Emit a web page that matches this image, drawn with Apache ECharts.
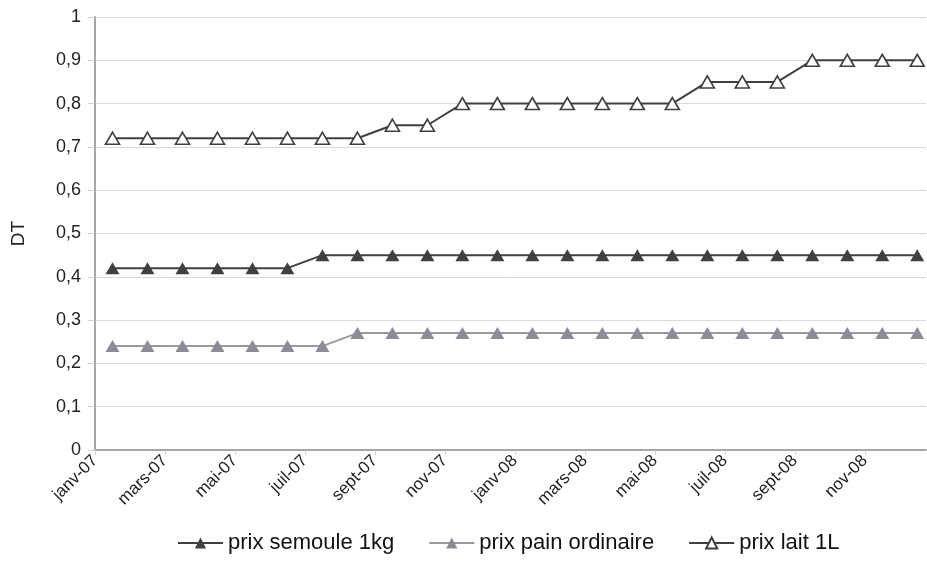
<!DOCTYPE html>
<html>
<head>
<meta charset="utf-8">
<script src="https://cdn.jsdelivr.net/npm/echarts@6/dist/echarts.min.js"></script>
<style>
html,body{margin:0;padding:0;background:#fff;}
#chart{width:927px;height:561px;}
</style>
</head>
<body>
<div id="chart"></div>
<script>
var months = ['janv-07','févr-07','mars-07','avr-07','mai-07','juin-07','juil-07','août-07','sept-07','oct-07','nov-07','déc-07',
              'janv-08','févr-08','mars-08','avr-08','mai-08','juin-08','juil-08','août-08','sept-08','oct-08','nov-08','déc-08'];
var semoule = [0.42,0.42,0.42,0.42,0.42,0.42,0.45,0.45,0.45,0.45,0.45,0.45,0.45,0.45,0.45,0.45,0.45,0.45,0.45,0.45,0.45,0.45,0.45,0.45];
var pain    = [0.24,0.24,0.24,0.24,0.24,0.24,0.24,0.27,0.27,0.27,0.27,0.27,0.27,0.27,0.27,0.27,0.27,0.27,0.27,0.27,0.27,0.27,0.27,0.27];
var lait    = [0.72,0.72,0.72,0.72,0.72,0.72,0.72,0.72,0.75,0.75,0.80,0.80,0.80,0.80,0.80,0.80,0.80,0.85,0.85,0.85,0.90,0.90,0.90,0.90];
var seriesNames = ['prix semoule 1kg','prix pain ordinaire','prix lait 1L'];

function pts(arr){ return arr.map(function(v,i){ return [i+0.5, v]; }); }

var font = 'Liberation Sans, Arial, sans-serif';
var chart = echarts.init(document.getElementById('chart'), null, {renderer:'canvas'});
chart.setOption({
  animation:false,
  backgroundColor:'#fff',
  grid:{left:95, right:1, top:17, bottom:111, containLabel:false},
  legend:{
    bottom:2, left:172,
    itemWidth:45, itemHeight:14, itemGap:34,
    textStyle:{fontFamily:font, fontSize:22, color:'#111'},
    data:seriesNames
  },
  xAxis:{
    type:'value', min:0, max:23.75, interval:2,
    splitLine:{show:false},
    axisLine:{show:true, lineStyle:{color:'#a6a6a6', width:2}},
    axisTick:{show:true, length:5, lineStyle:{color:'#d0d0d0', width:1}},
    axisLabel:{
      rotate:45, margin:8, fontFamily:font, fontSize:17, color:'#222',
      showMaxLabel:false,
      formatter:function(v){ return (Math.abs(v-Math.round(v))<1e-6 && Math.round(v)%2===0) ? months[Math.round(v)] : ''; }
    }
  },
  yAxis:{
    type:'value', min:0, max:1, interval:0.1,
    name:'DT', nameLocation:'middle', nameGap:67, nameRotate:90,
    nameTextStyle:{fontFamily:font, fontSize:19, color:'#222'},
    axisLine:{show:true, lineStyle:{color:'#a6a6a6', width:2}},
    axisTick:{show:true, length:7, lineStyle:{color:'#d0d0d0', width:1}},
    splitLine:{show:true, lineStyle:{color:'#d9d9d9', width:1}},
    axisLabel:{
      fontFamily:font, fontSize:18, color:'#222', margin:14,
      formatter:function(v){ return (Math.round(v*10)/10).toString().replace('.', ','); }
    }
  },
  series:[
    {name:seriesNames[0], type:'line', data:pts(semoule), symbol:'triangle', symbolSize:[14,12],
     lineStyle:{color:'#404040', width:2}, itemStyle:{color:'#404040', borderWidth:0}},
    {name:seriesNames[1], type:'line', data:pts(pain), symbol:'triangle', symbolSize:[14,12],
     lineStyle:{color:'#9a9a9a', width:2}, itemStyle:{color:'#8c8c98', borderWidth:0}},
    {name:seriesNames[2], type:'line', data:pts(lait), symbol:'triangle', symbolSize:[14,12],
     lineStyle:{color:'#404040', width:2}, itemStyle:{color:'#ffffff', borderColor:'#404040', borderWidth:1.6}}
  ]
});
</script>
</body>
</html>
